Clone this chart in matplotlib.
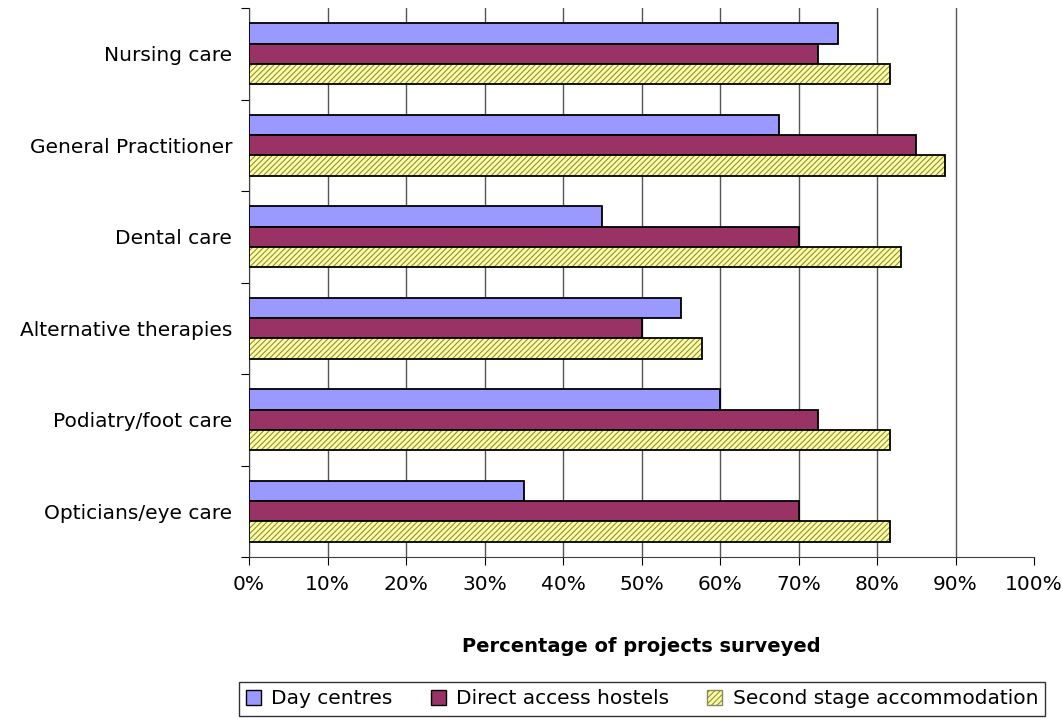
import numpy as np
import matplotlib.pyplot as plt
from matplotlib.patches import Patch

# ------------------------------------------------------------
#  data
# ------------------------------------------------------------
categories = ['Nursing care', 'General Practitioner', 'Dental care',
              'Alternative therapies', 'Podiatry/foot care', 'Opticians/eye care']
day_centres = [75, 67.5, 45, 55, 60, 35]
direct_access = [72.5, 85, 70, 50, 72.5, 70]
second_stage = [81.7, 88.7, 83, 57.7, 81.7, 81.7]
series_names = ['Day centres', 'Direct access hostels', 'Second stage accommodation']
x_ticks = list(range(0, 101, 10))

plt.rcParams['font.family'] = ['DejaVu Sans']
plt.rcParams['hatch.color'] = '#8a8a60'
plt.rcParams['hatch.linewidth'] = 0.8

fig = plt.figure(figsize=(10.63, 7.19), dpi=100)
ax = fig.add_axes([249 / 1063, 1 - 557 / 719, (1034 - 249) / 1063, (557 - 8) / 719])

n = len(categories)
y = np.arange(n)[::-1].astype(float)  # first category on top
h = 0.222

ax.barh(y + h, day_centres, height=h, color='#9999FF', edgecolor='black', linewidth=1.3, zorder=3)
ax.barh(y, direct_access, height=h, color='#993366', edgecolor='black', linewidth=1.3, zorder=3)
# hatched bars: fill + hatch in grey, then black outline on top
ax.barh(y - h, second_stage, height=h, color='#FFFF99', edgecolor='#8a8a60', hatch='//////',
        linewidth=0, zorder=3)
ax.barh(y - h, second_stage, height=h, fill=False, edgecolor='black', linewidth=1.3, zorder=4)

ax.set_xlim(0, 100)
ax.set_ylim(-0.5, n - 0.5)
ax.set_xticks(x_ticks)
ax.set_xticklabels([f'{v}%' for v in x_ticks], fontsize=14.5)
ax.tick_params(axis='x', length=6, pad=7, color='black')
ax.grid(axis='x', color='#555555', linewidth=1, zorder=0)
ax.get_xgridlines()[-1].set_visible(False)

# ticks at category boundaries, labels at centres
ax.set_yticks(np.arange(-0.5, n, 1.0))
ax.set_yticklabels([])
ax.set_yticks(y, minor=True)
ax.set_yticklabels(categories, minor=True, fontsize=14.5)
ax.tick_params(axis='y', which='major', length=6, color='black')
ax.tick_params(axis='y', which='minor', length=0, pad=12)

for s in ['top', 'right']:
    ax.spines[s].set_visible(False)
ax.spines['left'].set_color('#404040')
ax.spines['bottom'].set_color('#404040')

ax.set_xlabel('Percentage of projects surveyed', fontsize=14, fontweight='bold', labelpad=31)

handles = [Patch(facecolor='#9999FF', edgecolor='black'),
           Patch(facecolor='#993366', edgecolor='black'),
           Patch(facecolor='#FFFF99', edgecolor='#8a8a60', hatch='//////')]
leg = fig.legend(handles, series_names, loc='center', bbox_to_anchor=(642 / 1063, 1 - 699 / 719),
                 ncol=3, fontsize=14.5, frameon=True, fancybox=False, edgecolor='black',
                 handlelength=0.75, handleheight=0.75, handletextpad=0.5, columnspacing=1.9,
                 borderpad=0.35)
leg.get_frame().set_linewidth(1)

fig.savefig('out.png', dpi=100)
